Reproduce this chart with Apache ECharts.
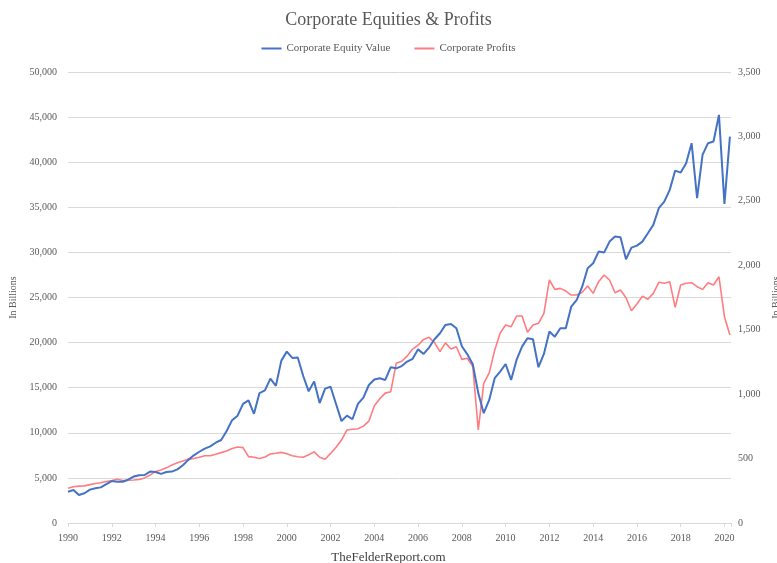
<!DOCTYPE html>
<html lang="en">
<head>
    <meta charset="UTF-8">
    <title>Corporate Equities &amp; Profits</title>
    <script src="https://cdn.jsdelivr.net/npm/echarts@6.0.0/dist/echarts.min.js"></script>
    <style>
        body { margin: 0; padding: 0; background: #fff; }
        #chart { width: 777px; height: 563px; }
    </style>
</head>
<body>
    <div id="chart"></div>
    <script>
        // quarterly, 1990 Q1 .. 2020 Q2, billions of dollars
        const startYear = 1990;
        const equity = [
            3470, 3660, 3100, 3300, 3700, 3850, 3950, 4300, 4650, 4580,
            4580, 4800, 5150, 5300, 5320, 5700, 5650, 5450, 5650, 5700,
            5950, 6400, 7000, 7500, 7900, 8250, 8500, 8900, 9200, 10200,
            11400, 11900, 13200, 13600, 12100, 14400, 14700, 16000, 15200, 18000,
            19000, 18300, 18350, 16300, 14600, 15700, 13300, 14900, 15100, 13200,
            11300, 11900, 11500, 13200, 13900, 15300, 15900, 16050, 15860, 17270,
            17150, 17400, 17900, 18200, 19250, 18740, 19450, 20370, 21040, 21960,
            22070, 21590, 19600, 18700, 17600, 14400, 12170, 13640, 16050, 16780,
            17630, 15860, 18080, 19550, 20480, 20370, 17270, 18740, 21220, 20660,
            21590, 21590, 24000, 24730, 26200, 28250, 28800, 30090, 29980, 31200,
            31750, 31680, 29240, 30530, 30750, 31200, 32120, 33050, 34900, 35630,
            36930, 39070, 38850, 39890, 42110, 36010, 40810, 42110, 42290, 45250,
            35380, 42840
        ];
        const profits = [
            269, 281, 286, 288, 298, 306, 313, 322, 330, 339,
            330, 332, 334, 338, 350, 372, 400, 411, 428, 450,
            468, 482, 496, 501, 510, 522, 522, 534, 546, 558,
            578, 590, 585, 515, 510, 500, 512, 535, 541, 548,
            538, 522, 514, 510, 530, 552, 510, 495, 540, 588,
            644, 722, 727, 732, 752, 790, 910, 965, 1008, 1019,
            1239, 1255, 1295, 1350, 1380, 1425, 1441, 1400, 1330, 1398,
            1350, 1368, 1270, 1278, 1215, 722, 1084, 1165, 1340, 1475,
            1536, 1523, 1606, 1606, 1480, 1536, 1550, 1627, 1886, 1813,
            1821, 1800, 1769, 1769, 1790, 1839, 1782, 1873, 1924, 1886,
            1787, 1808, 1748, 1647, 1699, 1761, 1736, 1782, 1868, 1860,
            1873, 1674, 1847, 1860, 1865, 1834, 1813, 1865, 1847, 1911,
            1601, 1459
        ];
        const seriesNames = ['Corporate Equity Value', 'Corporate Profits'];

        const chart = echarts.init(document.getElementById('chart'));
        const serif = 'Liberation Serif';
        const grey = '#595959';
        const gridColor = '#d9d9d9';
        const fmt = v => v.toLocaleString('en-US');

        const option = {
            animation: false,
            title: [
                {
                    text: 'Corporate Equities & Profits',
                    left: 'center', top: 6,
                    textStyle: { fontFamily: serif, fontSize: 18, fontWeight: 'normal', color: grey }
                },
                {
                    text: 'TheFelderReport.com',
                    left: 'center', top: 546,
                    textStyle: { fontFamily: serif, fontSize: 13, fontWeight: 'normal', color: '#404040' }
                }
            ],
            legend: {
                top: 38,
                left: 'center',
                icon: 'rect',
                itemWidth: 20,
                itemHeight: 2,
                itemGap: 24,
                textStyle: { fontFamily: serif, fontSize: 11, color: grey },
                data: seriesNames
            },
            grid: { left: 68, right: 46, top: 72, bottom: 40, outerBoundsMode: 'none' },
            xAxis: {
                type: 'value',
                min: startYear,
                max: 2020.3,
                interval: 2,
                splitLine: { show: false },
                axisLine: { lineStyle: { color: gridColor } },
                axisTick: { length: 4, lineStyle: { color: gridColor } },
                axisLabel: {
                    margin: 10,
                    fontFamily: serif, fontSize: 10, color: grey,
                    formatter: v => (v % 2 === 0 ? String(v) : '')
                }
            },
            yAxis: [
                {
                    type: 'value',
                    min: 0, max: 50000, interval: 5000,
                    name: 'In Billions',
                    nameLocation: 'middle',
                    nameGap: 50,
                    nameRotate: 90,
                    nameTextStyle: { fontFamily: serif, fontSize: 10, color: grey },
                    axisLine: { show: false },
                    axisTick: { show: false },
                    splitLine: { lineStyle: { color: gridColor } },
                    axisLabel: { margin: 11, fontFamily: serif, fontSize: 10, color: grey, formatter: fmt }
                },
                {
                    type: 'value',
                    min: 0, max: 3500, interval: 500,
                    name: 'In Billions',
                    nameLocation: 'middle',
                    nameGap: 39,
                    nameRotate: 90,
                    nameTextStyle: { fontFamily: serif, fontSize: 10, color: grey },
                    axisLine: { show: false },
                    axisTick: { show: false },
                    splitLine: { show: false },
                    axisLabel: { margin: 7, fontFamily: serif, fontSize: 10, color: grey, formatter: fmt }
                }
            ],
            series: [
                {
                    name: seriesNames[0],
                    type: 'line',
                    yAxisIndex: 0,
                    z: 3,
                    showSymbol: false,
                    itemStyle: { color: '#4472C4' },
                    lineStyle: { color: '#4472C4', width: 2 },
                    data: equity.map((v, i) => [startYear + i / 4, v])
                },
                {
                    name: seriesNames[1],
                    type: 'line',
                    yAxisIndex: 1,
                    z: 2,
                    showSymbol: false,
                    itemStyle: { color: '#FF7C80' },
                    lineStyle: { color: '#FF7C80', width: 1.6 },
                    data: profits.map((v, i) => [startYear + i / 4, v])
                }
            ]
        };
        chart.setOption(option);
    </script>
</body>
</html>
